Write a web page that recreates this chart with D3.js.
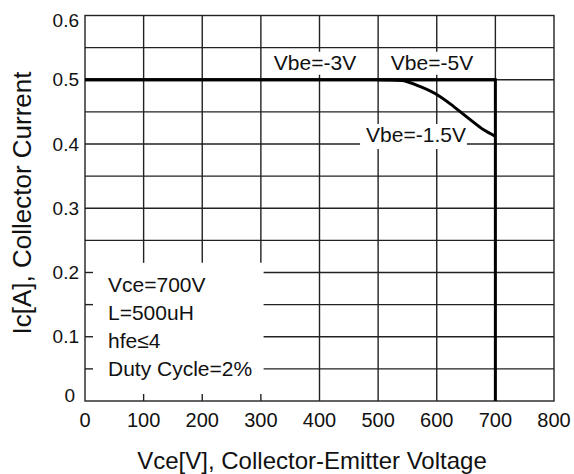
<!DOCTYPE html>
<html><head><meta charset="utf-8">
<script src="https://cdn.jsdelivr.net/npm/d3@7"></script>
<style>
html,body{margin:0;padding:0;background:#fff;}
svg{display:block;font-family:"Liberation Sans",Arial,Helvetica,sans-serif;}
</style></head>
<body><svg id="c" width="574" height="474"></svg>
<script>
// ---- data ----
const xTicks = [0,100,200,300,400,500,600,700,800];
const yTickLabels = [0,0.1,0.2,0.3,0.4,0.5,0.6];
const yGrid = [0,0.05,0.1,0.15,0.2,0.25,0.3,0.35,0.4,0.45,0.5,0.55,0.6];
const vbe3 = [[0,0.5],[700,0.5]];
const vbe5 = [[0,0.5],[700,0.5],[700,0]];
const vbe15 = [[500,0.5],[540,0.499],[570,0.490],[600,0.477],[628,0.459],[657,0.438],[680,0.422],[700,0.412]];
const seriesLabels = ["Vbe=-3V","Vbe=-5V","Vbe=-1.5V"];
const noteLines = ["Vce=700V","L=500uH","hfe\u22644","Duty Cycle=2%"];
const xTitle = "Vce[V], Collector-Emitter Voltage";
const yTitle = "Ic[A], Collector Current";

// ---- layout ----
const svg = d3.select("#c");
const x = d3.scaleLinear().domain([0,800]).range([85,554]);
const y = d3.scaleLinear().domain([0,0.6]).range([401,15.5]);
const boxX = 320, boxY = 0.215; // annotation box extent in data units
const gridColor = "#222", gw = 1.4;

const g = svg.append("g");
// vertical grid lines
xTicks.slice(1,-1).forEach(v=>{
  const y0 = (v < boxX) ? y(boxY) : y(0);
  g.append("line").attr("x1",x(v)).attr("x2",x(v)).attr("y1",y(0.6)).attr("y2",y0)
   .attr("stroke",gridColor).attr("stroke-width",gw);
  if (v < boxX) {
    g.append("line").attr("x1",x(v)).attr("x2",x(v)).attr("y1",y(0)).attr("y2",y(0)-7)
     .attr("stroke",gridColor).attr("stroke-width",gw);
  }
});
// horizontal grid lines
yGrid.slice(1,-1).forEach(v=>{
  const x0 = (v < boxY) ? x(boxX)-x(0)+x(0) - 0 : x(0);
  g.append("line").attr("x1",(v<boxY)? x(boxX)-9 : x(0)).attr("x2",x(800)).attr("y1",y(v)).attr("y2",y(v))
   .attr("stroke",gridColor).attr("stroke-width",gw);
  if (v < boxY) {
    g.append("line").attr("x1",x(0)).attr("x2",x(0)+8).attr("y1",y(v)).attr("y2",y(v))
     .attr("stroke",gridColor).attr("stroke-width",gw);
  }
});
// frame
g.append("rect").attr("x",x(0)).attr("y",y(0.6)).attr("width",x(800)-x(0)).attr("height",y(0)-y(0.6))
 .attr("fill","none").attr("stroke",gridColor).attr("stroke-width",gw);

// axes tick labels
svg.append("g").selectAll("text").data(xTicks).join("text")
  .attr("x",d=>x(d)).attr("y",426.5).attr("text-anchor","middle")
  .attr("font-size",20).attr("fill","#111").text(d=>d);
svg.append("g").selectAll("text").data(yTickLabels).join("text")
  .attr("x",d=> d===0 ? 75 : 79).attr("y",d=> d===0 ? y(d)+1 : (d===0.6 ? y(d)+11 : y(d)+6.5)).attr("text-anchor","end")
  .attr("font-size",19).attr("fill","#111").text(d=>d===0?"0":d.toFixed(1));

// titles
svg.append("text").attr("x",312).attr("y",469).attr("text-anchor","middle")
  .attr("font-size",24).attr("fill","#111").text(xTitle);
svg.append("text").attr("transform","translate(31,203) rotate(-90)").attr("text-anchor","middle")
  .attr("font-size",26).attr("fill","#111").text(yTitle);

// data lines
const line = d3.line().x(d=>x(d[0])).y(d=>y(d[1]));
const curve = d3.line().x(d=>x(d[0])).y(d=>y(d[1])).curve(d3.curveMonotoneX);
svg.append("path").attr("d",line(vbe3)).attr("fill","none").attr("stroke","#000").attr("stroke-width",3);
svg.append("path").attr("d",line(vbe5)).attr("fill","none").attr("stroke","#000").attr("stroke-width",3);
svg.append("path").attr("d",curve(vbe15)).attr("fill","none").attr("stroke","#000").attr("stroke-width",3);

// series labels with white background
const labelPos = [[315, y(0.5)-10],[432, y(0.5)-10],[416, y(0.4)-2]];
seriesLabels.forEach((t,i)=>{
  const lg = svg.append("g");
  const tx = lg.append("text").attr("x",labelPos[i][0]).attr("y",labelPos[i][1]).attr("text-anchor","middle")
    .attr("font-size",21).attr("fill","#111").text(t);
  const b = tx.node().getBBox();
  const padL = i===2 ? 6 : 3, padR = i===2 ? 1 : 3;
  lg.insert("rect","text").attr("x",b.x-padL).attr("y",b.y+1).attr("width",b.width+padL+padR).attr("height",b.height+ (i===2?2:0))
    .attr("fill","#fff");
});

// note lines
svg.append("g").selectAll("text").data(noteLines).join("text")
  .attr("x",108).attr("y",(d,i)=>292+i*28).attr("font-size",21).attr("fill","#111").text(d=>d);
</script></body></html>
